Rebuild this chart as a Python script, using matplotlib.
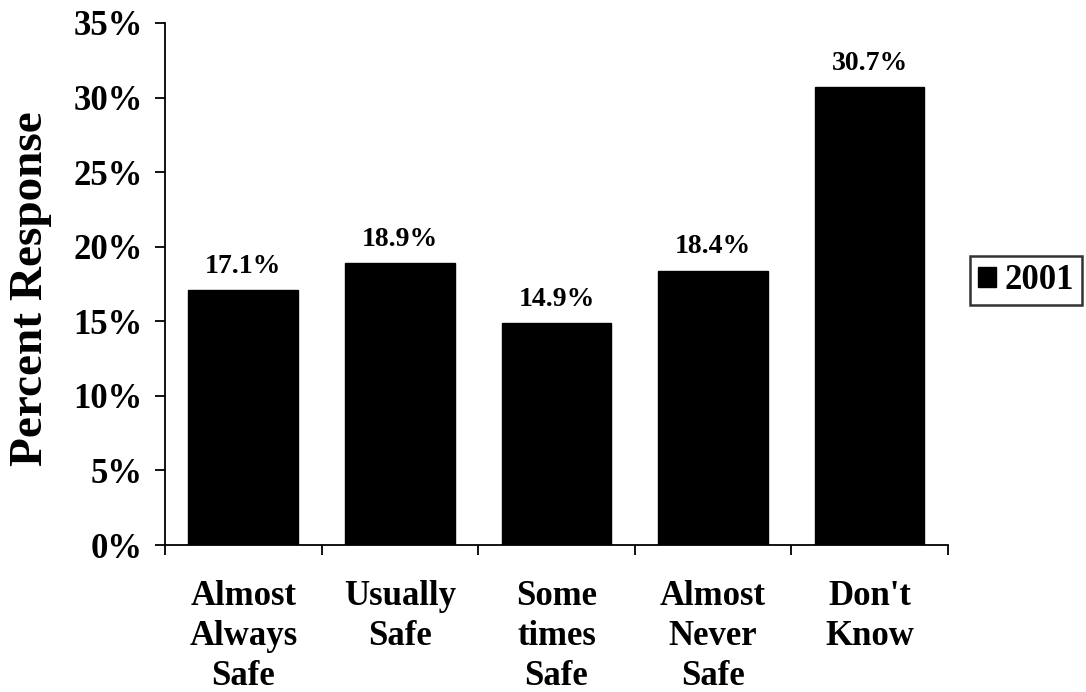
import matplotlib
matplotlib.use("Agg")
import matplotlib.pyplot as plt
from matplotlib.patches import Patch

categories = ["Almost\nAlways\nSafe", "Usually\nSafe", "Some\ntimes\nSafe",
              "Almost\nNever\nSafe", "Don't\nKnow"]
values_2001 = [17.1, 18.9, 14.9, 18.4, 30.7]
value_labels = ["17.1%", "18.9%", "14.9%", "18.4%", "30.7%"]
yticks = [0, 5, 10, 15, 20, 25, 30, 35]
ytick_labels = ["0%", "5%", "10%", "15%", "20%", "25%", "30%", "35%"]
series_name = "2001"

plt.rcParams["font.family"] = ["Liberation Serif", "DejaVu Serif"]
plt.rcParams["font.weight"] = "bold"

fig = plt.figure(figsize=(10.86, 6.92), dpi=100)
ax = fig.add_axes([0.1519, 0.2124, 0.7210, 0.7544])

x = list(range(len(categories)))
bars = ax.bar(x, values_2001, width=0.70, color="black", edgecolor="black")

for xi, v, lab in zip(x, values_2001, value_labels):
    ax.annotate(lab, (xi, v), xytext=(0, 8), textcoords="offset points",
                ha="center", va="bottom", fontsize=20, fontweight="bold")

ax.set_xlim(-0.5, len(categories) - 0.5)
ax.set_ylim(0, 35)
ax.set_yticks(yticks)
ax.set_yticklabels(ytick_labels, fontsize=25, fontweight="bold")

# category labels centered under bars, tick marks between categories
ax.set_xticks(x)
ax.set_xticklabels(categories, fontsize=25, fontweight="bold", linespacing=1.28)
ax.tick_params(axis="x", which="major", length=0, pad=25)
ax.set_xticks([i - 0.5 for i in range(len(categories) + 1)], minor=True)
ax.tick_params(axis="x", which="minor", length=7, width=1.3, direction="out")
ax.tick_params(axis="y", length=7, width=1.3, direction="out", pad=9)

for side in ["top", "right"]:
    ax.spines[side].set_visible(False)
for side in ["left", "bottom"]:
    ax.spines[side].set_linewidth(1.3)

ax.set_ylabel("Percent Response", fontsize=34, fontweight="bold")
ax.yaxis.set_label_coords(-0.144, 0.492)

leg = fig.legend(handles=[Patch(facecolor="black", edgecolor="black", label=series_name)],
                 loc="center", bbox_to_anchor=(0.9448, 0.5947), frameon=True,
                 fancybox=False, prop={"size": 25, "weight": "bold"},
                 handlelength=0.52, handleheight=0.52, handletextpad=0.25,
                 borderpad=0.22, borderaxespad=0)
leg.get_frame().set_edgecolor("black")
leg.get_frame().set_linewidth(1.8)

fig.savefig("out.png", dpi=100)
